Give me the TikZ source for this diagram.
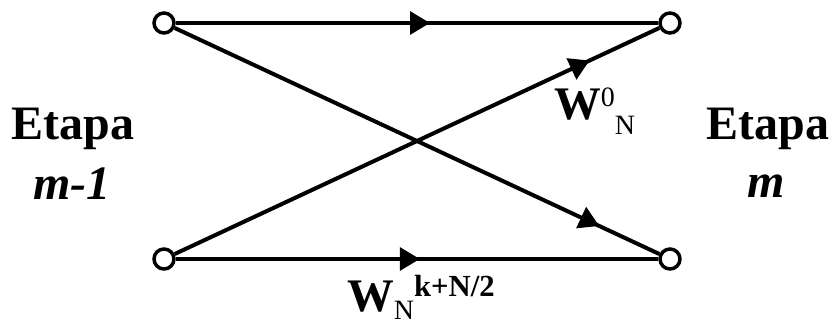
\documentclass[tikz,border=0pt]{standalone}
\usepackage{fontspec}
\setmainfont{Liberation Serif}
\usetikzlibrary{arrows.meta}
\usetikzlibrary{decorations.markings}
\newcommand{\idx}{\fontsize{21}{24}\selectfont}
\newcommand{\bigidx}{\fontsize{23}{26}\selectfont}

\begin{document}
\begin{tikzpicture}[x=0.75pt, y=-0.75pt]
	\tikzstyle{port}=[circle, draw, line width=2.6pt, fill=white,
	                  inner sep=0pt, minimum size=15pt];
	\tikzstyle{wire}=[line width=3pt];
	\tikzstyle{etapa}=[font=\fontsize{36}{40}\selectfont\bfseries, anchor=base, inner sep=0pt];
	\tikzstyle{twiddle}=[font=\fontsize{35}{38}\selectfont\bfseries, anchor=base west, inner sep=0pt];
	\tikzset{flow/.style={postaction={decorate}, decoration={markings,
	    mark=at position #1 with {\arrow{Triangle[length=15pt, width=17pt]}}}}}
	\useasboundingbox (0,0) rectangle (834,327);
	% butterfly ports
	\node[port] (a0) at (164,23) {};
	\node[port] (a1) at (164,259) {};
	\node[port] (b0) at (670,23) {};
	\node[port] (b1) at (670,259) {};
	\draw[wire, flow=0.527] (a0) -- (b0);
	\draw[wire, flow=0.506] (a1) -- (b1);
	\draw[wire, flow=0.876] (a0) -- (b1);
	\draw[wire, flow=0.856] (a1) -- (b0);
	% stage labels
	\node[etapa] (prev) at (73,140) {Etapa};
	\node[etapa, font=\fontsize{36}{40}\selectfont\bfseries\itshape] (prevm) at (72,200) {m-1};
	\node[etapa] (next) at (768,140) {Etapa};
	\node[etapa, font=\fontsize{36}{40}\selectfont\bfseries\itshape] (nextm) at (766,198) {m};
	% weights
	\node[twiddle] (w0) at (554,120)
	  {W\raisebox{10pt}{\idx\mdseries 0}\raisebox{-11pt}{\idx\mdseries N}};
	\node[twiddle] (wk) at (347,311)
	  {W\raisebox{-6.5pt}{\idx\mdseries N}\raisebox{11pt}{\bigidx k+N/2}};
\end{tikzpicture}
\end{document}
